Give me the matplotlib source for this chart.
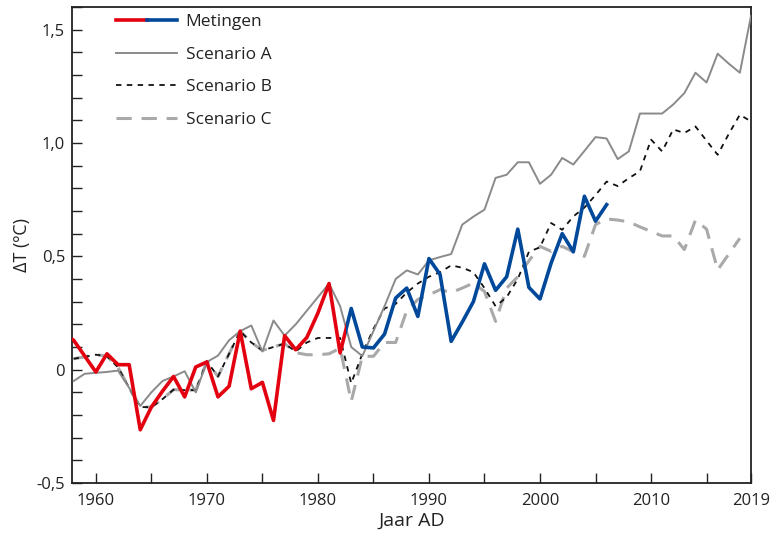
import matplotlib
matplotlib.use('Agg')
import matplotlib.pyplot as plt
from matplotlib.patches import Rectangle
from matplotlib.legend_handler import HandlerTuple
from matplotlib.ticker import FixedLocator, MultipleLocator, FuncFormatter

plt.rcParams['font.family'] = ['Open Sans', 'DejaVu Sans']

# measured temperature anomaly (red up to ~1983, blue after)
meas_years = list(range(1957, 2007))
meas_vals = [0.16, 0.13, 0.06, -0.01, 0.07, 0.022, 0.022, -0.265, -0.165, -0.095,
             -0.03, -0.12, 0.012, 0.034, -0.12, -0.073, 0.17, -0.084, -0.056, -0.224,
             0.15, 0.088, 0.142, 0.25, 0.38, 0.074, 0.27, 0.10, 0.096, 0.157,
             0.316, 0.36, 0.235, 0.49, 0.42, 0.125, 0.21, 0.30, 0.467, 0.35,
             0.41, 0.62, 0.363, 0.312, 0.47, 0.60, 0.52, 0.765, 0.655, 0.728]
split_year = 1982.5

# Hansen scenario A
a_years = list(range(1958, 2020))
a_vals = [-0.05, -0.018, -0.014, -0.01, -0.004, -0.08, -0.16, -0.10, -0.05, -0.03,
          -0.007, -0.10, 0.034, 0.062, 0.13, 0.17, 0.195, 0.08, 0.217, 0.15,
          0.20, 0.26, 0.32, 0.38, 0.28, 0.10, 0.06, 0.17, 0.28, 0.40,
          0.438, 0.42, 0.482, 0.497, 0.51, 0.64, 0.675, 0.706, 0.846, 0.86,
          0.915, 0.915, 0.82, 0.86, 0.934, 0.905, 0.965, 1.026, 1.02, 0.929,
          0.963, 1.13, 1.13, 1.13, 1.17, 1.22, 1.31, 1.267, 1.394, 1.35,
          1.31, 1.56]

# scenario B
b_years = list(range(1958, 2020))
b_vals = [0.048, 0.057, 0.066, 0.06, 0.01, -0.08, -0.165, -0.165, -0.13, -0.088,
          -0.09, -0.09, 0.037, -0.03, 0.07, 0.17, 0.12, 0.085, 0.10, 0.115,
          0.08, 0.12, 0.14, 0.14, 0.14, -0.06, 0.07, 0.18, 0.27, 0.29,
          0.34, 0.38, 0.41, 0.43, 0.46, 0.45, 0.43, 0.36, 0.28, 0.32,
          0.40, 0.52, 0.54, 0.647, 0.617, 0.676, 0.715, 0.77, 0.83, 0.81,
          0.845, 0.875, 1.015, 0.963, 1.06, 1.044, 1.073, 1.01, 0.948, 1.04,
          1.125, 1.095]

# scenario C
c_years = list(range(1958, 2019))
c_vals = [0.048, 0.057, 0.066, 0.06, 0.01, -0.08, -0.165, -0.165, -0.13, -0.088,
          -0.09, -0.09, 0.037, -0.03, 0.07, 0.17, 0.12, 0.085, 0.10, 0.115,
          0.075, 0.066, 0.066, 0.07, 0.095, -0.14, 0.059, 0.059, 0.12, 0.12,
          0.26, 0.31, 0.33, 0.353, 0.34, 0.36, 0.382, 0.345, 0.213, 0.36,
          0.41, 0.48, 0.544, 0.522, 0.544, 0.52, 0.50, 0.64, 0.665, 0.66,
          0.652, 0.63, 0.61, 0.59, 0.59, 0.53, 0.66, 0.62, 0.44, 0.51,
          0.58]

x_labels = ['1960', '1970', '1980', '1990', '2000', '2010', '2019']

fig = plt.figure(figsize=(7.73, 5.38), dpi=100)
ax = fig.add_axes([0.0931, 0.1022, 0.8784, 0.8848])
ax.set_xlim(1957.85, 2019)
ax.set_ylim(-0.5, 1.6)
x0, x1 = ax.get_xlim()

lc, = ax.plot(c_years, c_vals, color='#a9a9ab', lw=2.2, dashes=(5, 3.2), zorder=2)
lb, = ax.plot(b_years, b_vals, color='#111111', lw=1.3, dashes=(3, 3), zorder=3)
la, = ax.plot(a_years, a_vals, color='#8a8a8a', lw=1.4, zorder=4)

red, = ax.plot(meas_years, meas_vals, color='#e3000f', lw=2.6, zorder=5)
blue, = ax.plot(meas_years, meas_vals, color='#00489a', lw=2.6, zorder=5)
red.set_clip_path(Rectangle((x0, -5), split_year - x0, 10, transform=ax.transData))
blue.set_clip_path(Rectangle((split_year, -5), x1 - split_year, 10, transform=ax.transData))

ax.xaxis.set_major_locator(FixedLocator([1960, 1970, 1980, 1990, 2000, 2010, 2019]))
ax.set_xticklabels(x_labels)
ax.xaxis.set_minor_locator(FixedLocator([1965, 1975, 1985, 1995, 2005, 2015]))
ax.yaxis.set_major_locator(FixedLocator([-0.5, 0, 0.5, 1.0, 1.5]))
ax.yaxis.set_minor_locator(MultipleLocator(0.1))
ax.yaxis.set_major_formatter(FuncFormatter(lambda v, p: '0' if abs(v) < 1e-9 else ('%.1f' % v).replace('.', ',')))

ax.tick_params(which='both', direction='in', length=7, width=1.0, color='#222222',
               labelsize=12, labelcolor='#222222', top=False, right=False)
ax.tick_params(axis='x', pad=7)
ax.tick_params(axis='y', pad=5)

for s in ax.spines.values():
    s.set_linewidth(1.3)
    s.set_color('#222222')

ax.set_xlabel('Jaar AD', fontsize=14, color='#222222', labelpad=2)
ax.set_ylabel('\u0394T (\u00baC)', fontsize=13, color='#222222', labelpad=4)

leg = ax.legend([(red, blue), la, lb, lc],
                ['Metingen', 'Scenario A', 'Scenario B', 'Scenario C'],
                handler_map={tuple: HandlerTuple(ndivide=None, pad=0)},
                loc='upper left', bbox_to_anchor=(0.055, 1.0), borderaxespad=0.0,
                frameon=False, fontsize=12.5, handlelength=3.5, handletextpad=0.5,
                labelspacing=0.95)
for t in leg.get_texts():
    t.set_color('#222222')

fig.savefig('out.png', dpi=100)
